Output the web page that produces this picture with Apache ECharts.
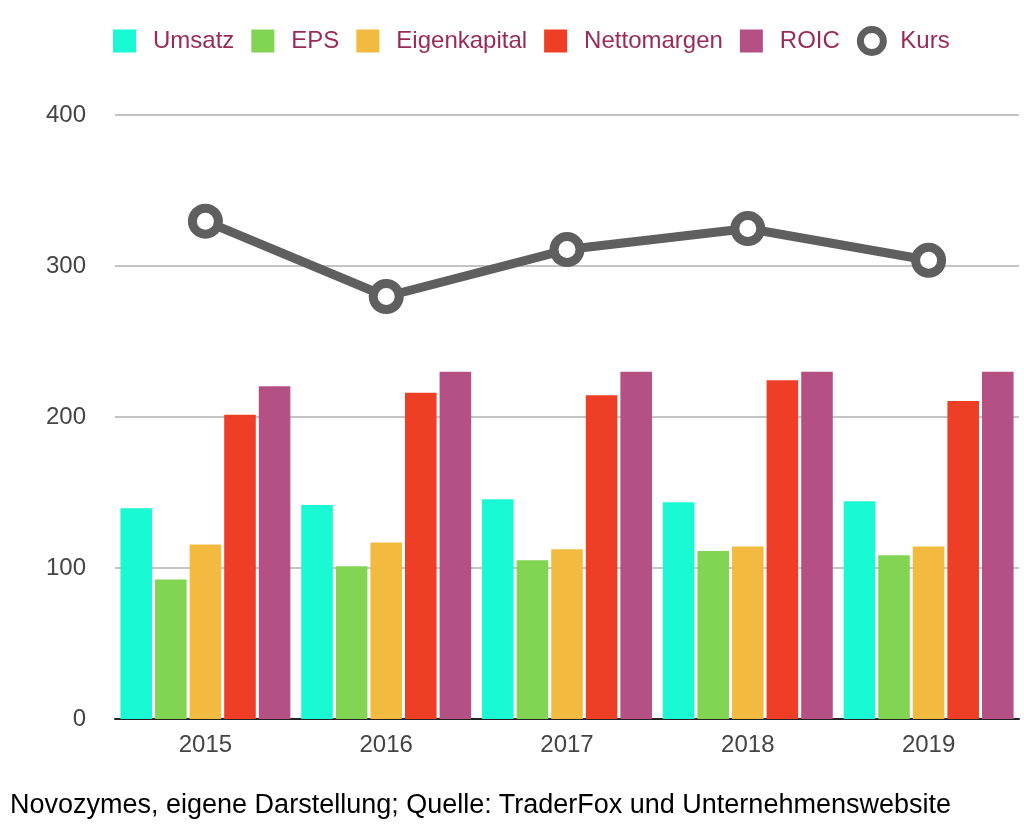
<!DOCTYPE html>
<html><head><meta charset="utf-8">
<script src="https://cdn.jsdelivr.net/npm/echarts@6/dist/echarts.min.js"></script>
<style>html,body{margin:0;padding:0;background:#fff}#c{width:1024px;height:838px}</style>
</head><body><div id="c"></div>
<script>
var years = ['2015','2016','2017','2018','2019'];
var umsatz = [139.5, 141.7, 145.5, 143.5, 144.2];
var eps = [92.4, 101.2, 105.2, 111.2, 108.5];
var eigenkapital = [115.6, 116.9, 112.5, 114.3, 114.3];
var nettomargen = [201.5, 216, 214.4, 224.3, 210.6];
var roic = [220.3, 230, 230, 230, 230];
var kurs = [329.7, 279.8, 310.9, 324.8, 303.8];
var yTicks = [0, 100, 200, 300, 400];

var colors = ['#19f9d3', '#82d552', '#f2bb40', '#ee3e25', '#b55084'];
var names = ['Umsatz','EPS','Eigenkapital','Nettomargen','ROIC'];
var data = [umsatz, eps, eigenkapital, nettomargen, roic];
var font = '"Liberation Sans", Arial, Helvetica, sans-serif';

var series = names.map(function(n, i){
  return {name: n, type: 'bar', data: data[i], barGap: '9.5%', barCategoryGap: '6%',
    itemStyle: {color: colors[i]}, emphasis: {disabled: true}};
});
series.push({name: 'Kurs', type: 'line', data: kurs, symbol: 'circle', symbolSize: 26,
  lineStyle: {color: '#5f5f5f', width: 9},
  itemStyle: {color: '#ffffff', borderColor: '#5f5f5f', borderWidth: 9}, z: 5,
  emphasis: {disabled: true}});

var chart = echarts.init(document.getElementById('c'));
chart.setOption({
  animation: false,
  textStyle: {fontFamily: font},
  legend: {
    top: 21, left: 108, itemWidth: 23, itemHeight: 23, itemGap: 17,
    textStyle: {color: '#9b2a5a', fontSize: 24, fontFamily: font, padding: [0, 0, 0, 12]},
    data: names.map(function(n){return {name: n, icon: 'rect'};}).concat([{name: 'Kurs', icon: 'circle',
      itemStyle: {color: '#fff', borderColor: '#5f5f5f', borderWidth: 7}}])
  },
  grid: {left: 115, right: 5, top: 115, bottom: 119},
  xAxis: {type: 'category', data: years,
    axisLine: {lineStyle: {color: '#222', width: 2}},
    axisTick: {show: false},
    axisLabel: {color: '#444', fontSize: 24, margin: 14, fontFamily: font}},
  yAxis: {type: 'value', min: yTicks[0], max: yTicks[yTicks.length-1], interval: 100,
    axisLine: {show: false}, axisTick: {show: false},
    splitLine: {lineStyle: {color: '#c4c4c4', width: 2}},
    axisLabel: {color: '#444', fontSize: 24, margin: 29, fontFamily: font}},
  series: series
});
</script>
<div style="position:absolute;left:10px;top:791px;font:27px/27px 'Liberation Sans',Arial,sans-serif;color:#000;white-space:nowrap">Novozymes, eigene Darstellung; Quelle: TraderFox und Unternehmenswebsite</div>
</body></html>
